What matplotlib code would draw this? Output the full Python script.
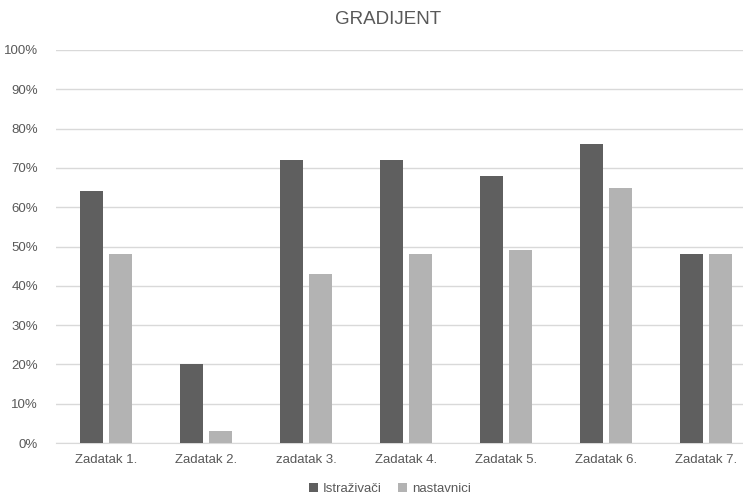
import matplotlib
matplotlib.use("Agg")
import matplotlib.pyplot as plt
import numpy as np

categories = ["Zadatak 1.", "Zadatak 2.", "zadatak 3.", "Zadatak 4.",
              "Zadatak 5.", "Zadatak 6.", "Zadatak 7."]
istrazivaci = [64, 20, 72, 72, 68, 76, 48]
nastavnici = [48, 3, 43, 48, 49, 65, 48]
yticks = [0, 10, 20, 30, 40, 50, 60, 70, 80, 90, 100]

plt.rcParams['font.family'] = ['Liberation Sans', 'DejaVu Sans']
txt = '#595959'

fig = plt.figure(figsize=(7.43, 4.96), dpi=100)
ax = fig.add_axes([56/743, 1 - 443/496, 687/743, 393/496])

x = np.arange(len(categories))
w = 0.225
ax.bar(x - 0.143, istrazivaci, w, color='#5f5f5f', label='Istraživači', zorder=3)
ax.bar(x + 0.143, nastavnici, w, color='#b3b3b3', label='nastavnici', zorder=3)

ax.set_xlim(-0.5, 6.37)
ax.set_ylim(0, 100)
ax.set_yticks(yticks)
ax.set_yticklabels(['%d%%' % v for v in yticks])
ax.set_xticks(x)
ax.set_xticklabels(categories)
ax.yaxis.grid(True, color='#d9d9d9', lw=1, zorder=0)
for s in ['top', 'right', 'left']:
    ax.spines[s].set_visible(False)
ax.spines['bottom'].set_color('#d9d9d9')
ax.tick_params(axis='both', length=0, colors=txt, labelsize=9.5)
ax.tick_params(axis='y', pad=13)
ax.tick_params(axis='x', pad=8)

fig.text(388/743, 1 - 20/496, 'GRADIJENT', ha='center', va='center',
         fontsize=13.5, color=txt)

fig.legend(loc='center', bbox_to_anchor=(390/743, 1 - 489/496), ncol=2,
           frameon=False, fontsize=9.5, handlelength=0.7, handleheight=0.7,
           handletextpad=0.4, columnspacing=1.2, labelcolor=txt)

fig.savefig('out.png', dpi=100)
